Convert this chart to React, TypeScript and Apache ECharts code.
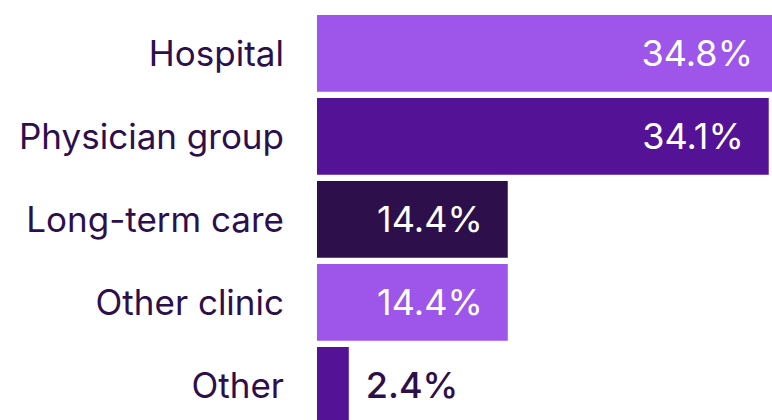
import React, { useEffect, useRef } from "react";
import * as echarts from "echarts";

const categories = ["Hospital", "Physician group", "Long-term care", "Other clinic", "Other"];
const values = [34.8, 34.1, 14.4, 14.4, 2.4];

const barColors = ["#9D55EA", "#541296", "#2D0F4C", "#9D55EA", "#541296"];
const textDark = "#2D0F4C";
const FONT = "Inter, 'Noto Sans', sans-serif";

export default function App() {
  const ref = useRef<HTMLDivElement>(null);
  useEffect(() => {
    document.body.style.margin = "0";
    const chart = echarts.init(ref.current!, undefined, { renderer: "svg" });
    chart.setOption({
      animation: false,
      grid: { left: 317, width: 461, top: 11.85, height: 415, containLabel: false, outerBoundsMode: "none" },
      xAxis: { type: "value", min: 0, max: 34.8, show: false },
      yAxis: {
        type: "category",
        data: categories,
        inverse: true,
        axisLine: { show: false },
        axisTick: { show: false },
        axisLabel: { margin: 33, color: textDark, fontSize: 35, fontFamily: FONT },
      },
      series: [
        {
          type: "bar",
          barCategoryGap: "7.6%",
          data: values.map((v, i) => {
            const small = v < 5;
            return {
              value: v,
              itemStyle: { color: barColors[i] },
              label: small
                ? { position: "right", distance: 17, color: textDark, fontWeight: 500 }
                : { position: "insideRight", distance: 25, color: "#ffffff" },
            };
          }),
          label: {
            show: true,
            fontSize: 36,
            fontFamily: FONT,
            formatter: (p: any) => `${p.value.toFixed(1)}%`,
          },
        },
      ],
    });
    return () => chart.dispose();
  }, []);
  return <div ref={ref} style={{ width: 772, height: 420, position: "absolute", left: 0, top: 0 }} />;
}
